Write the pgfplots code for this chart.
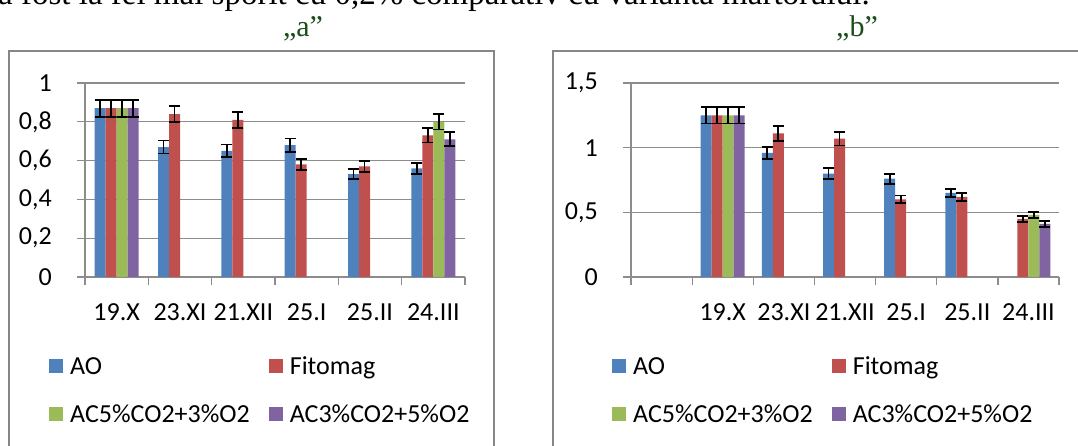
\documentclass[border=0pt]{standalone}
\usepackage{pgfplots}
\pgfplotsset{compat=1.18}
\usepackage{fontspec}
\setmainfont{Carlito}
\newfontfamily\timesfont{Liberation Serif}
\definecolor{cAO}{RGB}{79,129,189}
\definecolor{cFi}{RGB}{192,80,77}
\definecolor{cG}{RGB}{155,187,89}
\definecolor{cP}{RGB}{128,100,162}
\definecolor{gridc}{RGB}{140,140,140}
\definecolor{boxc}{RGB}{134,134,134}
\definecolor{titc}{RGB}{28,78,28}
\pgfplotsset{
  mybar/.style={
    ybar=0pt, bar width=11pt,
    scale only axis, height=194pt,
    anchor=south west,
    axis x line*=bottom, axis y line*=left,
    axis line style={gridc, line width=1.3pt, -},
    ymin=0, enlargelimits=false,
    ymajorgrids, grid style={gridc, line width=1.3pt},
    tick align=outside, major tick length=8pt, minor tick length=8pt,
    major x tick style={draw=none},
    minor x tick style={gridc, line width=1.3pt},
    ytick style={gridc, line width=1.3pt},
    tick label style={font=\fontsize{26}{31}\selectfont},
    /pgf/number format/use comma,
    /pgf/number format/fixed,
    /pgf/number format/precision=1,
    /pgf/number format/assume math mode=true,
    yticklabel style={anchor=east, inner sep=0pt, xshift=-25pt},
    xticklabel style={anchor=base, inner sep=0pt, yshift=-36pt},
    legend columns=2,
    legend cell align=left,
    legend image code/.code={\fill[#1] (0pt,1pt) rectangle (14pt,15pt);},
    legend style={draw=none, fill=none, inner sep=0pt, row sep=25pt,
      font=\fontsize{26}{31}\selectfont,
      nodes={inner sep=0pt, text height=17pt, text depth=6pt},
      cells={anchor=base west},
      /tikz/every odd column/.append style={column sep=7pt},
      /tikz/every even column/.append style={column sep=19pt},
      anchor=north west},
    every axis plot/.append style={draw=none,
      error bars/y dir=both, error bars/y explicit,
      error bars/error bar style={black, line width=1.8pt},
      error bars/error mark options={black, line width=1.8pt, mark size=5.5pt, rotate=90}},
  }
}
\begin{document}
\begin{tikzpicture}
\useasboundingbox (0pt,0pt) rectangle (1078pt,446pt);
\clip (0pt,0pt) rectangle (1078pt,446pt);
\node[anchor=base west, inner sep=0pt, font=\timesfont\fontsize{33}{38}\selectfont] at (-2pt,441pt) {a fost la fel mai sporit cu 0,2\% comparativ cu varianta martorului.};
\node[anchor=base, inner sep=0pt, text=titc, font=\timesfont\fontsize{30}{36}\selectfont] at (303pt,409pt) {„a”};
\node[anchor=base, inner sep=0pt, text=titc, font=\timesfont\fontsize{30}{36}\selectfont] at (857pt,409pt) {„b”};
\draw[boxc, line width=1.5pt] (9pt,-10pt) rectangle (494pt,395pt);
\draw[boxc, line width=1.5pt] (553pt,-10pt) rectangle (1095pt,395pt);

% Chart a
\begin{axis}[mybar, at={(85pt,169pt)}, width=380pt,
  xmin=-0.5, xmax=5.5, ymax=1,
  ytick={0,0.2,...,1.01},
  xtick={0,...,5},
  xticklabels={19.X,23.XI,21.XII,25.I,25.II,24.III},
  minor xtick={-0.5,0.5,...,5.6},
  legend style={at={(-0.0947,-0.412)}},
]
\addplot[fill=cAO] coordinates {
 (0,0.87) +- (0,0.0435) (1,0.67) +- (0,0.0335) (2,0.65) +- (0,0.0325)
 (3,0.68) +- (0,0.034) (4,0.53) +- (0,0.0265) (5,0.56) +- (0,0.028)};
\addplot[fill=cFi] coordinates {
 (0,0.87) +- (0,0.0435) (1,0.84) +- (0,0.042) (2,0.81) +- (0,0.0405)
 (3,0.58) +- (0,0.029) (4,0.57) +- (0,0.0285) (5,0.73) +- (0,0.0365)};
\addplot[fill=cG] coordinates {
 (0,0.87) +- (0,0.0435) (5,0.80) +- (0,0.04)};
\addplot[fill=cP] coordinates {
 (0,0.87) +- (0,0.0435) (5,0.71) +- (0,0.0355)};
\legend{AO,Fitomag,AC5\%CO2+3\%O2,AC3\%CO2+5\%O2}
\end{axis}

% Chart b
\begin{axis}[mybar, at={(631pt,169pt)}, width=428pt,
  xmin=-0.5, xmax=6.5, ymax=1.5,
  ytick={0,0.5,1,1.5},
  xtick={1,...,6},
  xticklabels={19.X,23.XI,21.XII,25.I,25.II,24.III},
  minor xtick={-0.5,0.5,...,6.6},
  legend style={at={(-0.0444,-0.412)}},
]
\addplot[fill=cAO] coordinates {
 (1,1.25) +- (0,0.0625) (2,0.96) +- (0,0.048) (3,0.80) +- (0,0.04)
 (4,0.76) +- (0,0.038) (5,0.65) +- (0,0.0325)};
\addplot[fill=cFi] coordinates {
 (1,1.25) +- (0,0.0625) (2,1.11) +- (0,0.0555) (3,1.07) +- (0,0.0535)
 (4,0.60) +- (0,0.03) (5,0.62) +- (0,0.031) (6,0.45) +- (0,0.0225)};
\addplot[fill=cG] coordinates {
 (1,1.25) +- (0,0.0625) (6,0.48) +- (0,0.024)};
\addplot[fill=cP] coordinates {
 (1,1.25) +- (0,0.0625) (6,0.41) +- (0,0.0205)};
\legend{AO,Fitomag,AC5\%CO2+3\%O2,AC3\%CO2+5\%O2}
\end{axis}
\end{tikzpicture}
\end{document}
